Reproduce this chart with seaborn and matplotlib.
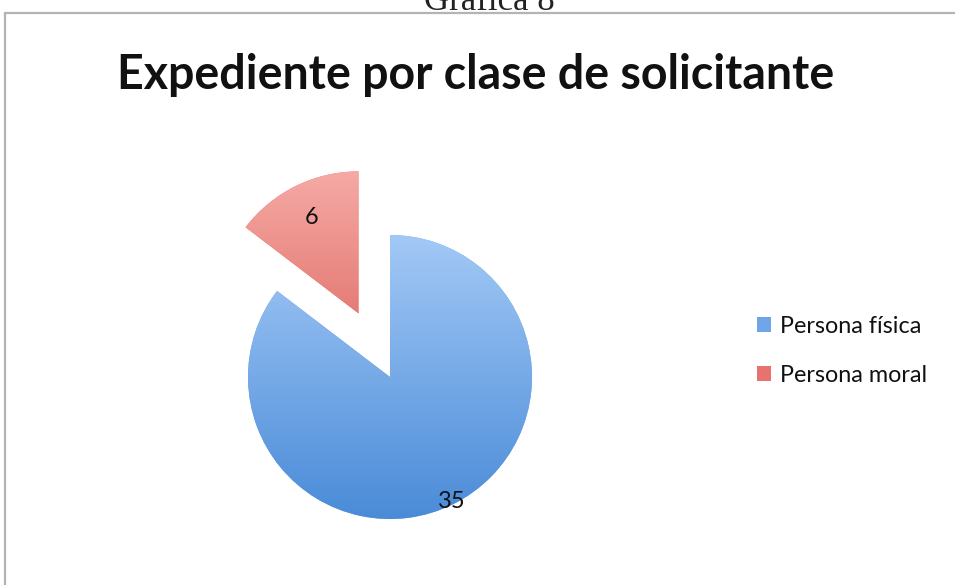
import numpy as np
import matplotlib
matplotlib.use("Agg")
import matplotlib.pyplot as plt
import seaborn as sns
from matplotlib.colors import LinearSegmentedColormap
from matplotlib.patches import Rectangle

# datos de la gráfica
categorias = ["Persona física", "Persona moral"]
valores = [35, 6]
titulo = "Expediente por clase de solicitante"
encabezado = "Gráfica 8"

sns.set_theme(style="white")
plt.rcParams["font.family"] = ["Lato", "DejaVu Sans"]

# degradados de cada rebanada (arriba -> abajo) y color de la leyenda
degradados = [("#a3c9f6", "#4a8bd8"), ("#f6aaa5", "#d44e48")]
colores = ["#6fa6ea", "#e8736e"]
explode = [0, 0.5]
dist_etiqueta = [0.98, 0.75]

fig = plt.figure(figsize=(9.55, 5.85), dpi=100)
W, H = 955, 585

# marco gris del área de la gráfica
fig.patches.append(Rectangle((5 / W, -0.1), 1.2, 1 - 13 / H + 0.1,
                             transform=fig.transFigure, fill=False,
                             edgecolor="#b4b4b4", linewidth=1.6))
fig.text(489 / W, 1 - 10 / H, encabezado, ha="center", va="baseline",
         fontsize=25, color="#222222", family=["Liberation Serif", "DejaVu Serif"])
fig.text(476 / W, 1 - 75 / H, titulo, ha="center", va="center",
         fontsize=33.5, fontweight="bold", color="#111111")

# ejes: centro del pastel en (390, 377) px, radio 142 px
r = 142
lim = 1.6
lado = 2 * lim * r
ax = fig.add_axes([(390 - lado / 2) / W, (H - 377 - lado / 2) / H, lado / W, lado / H])

wedges, _ = ax.pie(valores, startangle=90, counterclock=False, colors=colores,
                   explode=explode, wedgeprops=dict(linewidth=0))

for w, (c0, c1), d, v in zip(wedges, degradados, dist_etiqueta, valores):
    cmap = LinearSegmentedColormap.from_list("g", [c1, c0])
    x0, y0 = w.center
    grad = np.linspace(0, 1, 256).reshape(-1, 1)
    im = ax.imshow(grad, cmap=cmap, origin="lower", aspect="auto",
                   extent=[x0 - 1, x0 + 1, y0 - 1, y0 + 1], zorder=w.get_zorder() + 0.1)
    im.set_clip_path(w)
    ang = np.deg2rad((w.theta1 + w.theta2) / 2)
    ax.text(x0 + d * np.cos(ang), y0 + d * np.sin(ang), str(v),
            ha="center", va="center", fontsize=17, color="#111111", zorder=5)

ax.set_xlim(-lim, lim)
ax.set_ylim(-lim, lim)
ax.set_aspect("equal")
ax.axis("off")

leg = fig.legend(wedges, categorias, loc="center left",
                 bbox_to_anchor=(736 / W, 1 - 351 / H), frameon=False,
                 fontsize=16.8, handlelength=0.6, handleheight=0.6,
                 handletextpad=0.4, labelspacing=1.2)
for t in leg.get_texts():
    t.set_color("#111111")

fig.savefig("out.png", dpi=100)
